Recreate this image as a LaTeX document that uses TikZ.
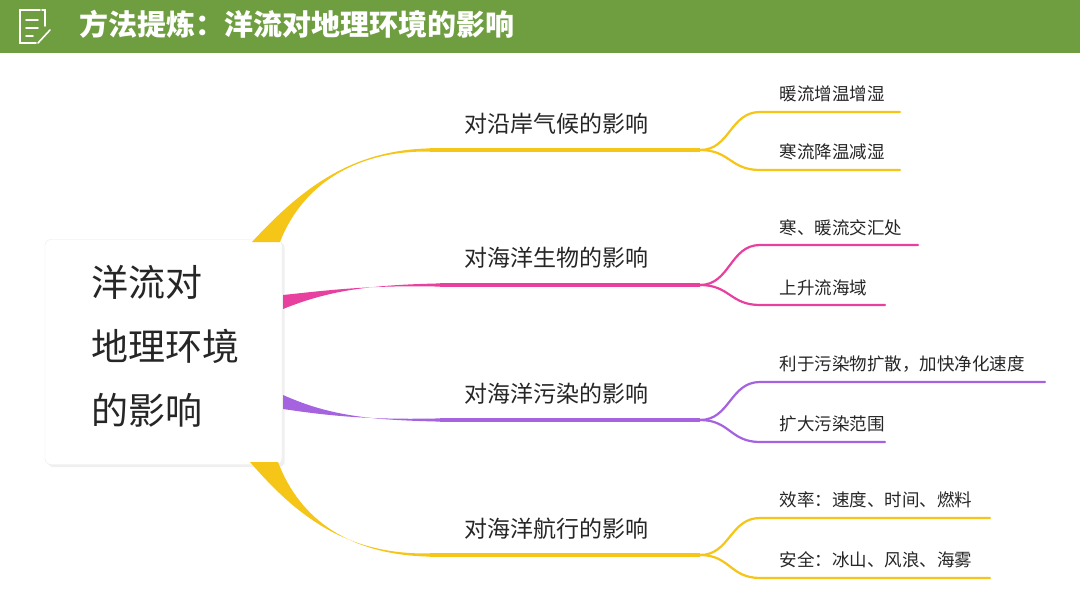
\documentclass[tikz,border=0pt]{standalone}
\usepackage{fontspec}
\setmainfont{Noto Sans CJK SC}
\usetikzlibrary{positioning, shadows, calc}

\definecolor{hdrgreen}{HTML}{6E9E3F}
\definecolor{brYellow}{HTML}{F5C518}
\definecolor{brPink}{HTML}{E8409F}
\definecolor{brPurple}{HTML}{A563E0}

\tikzset{
  topic/.style={font=\fontsize{23}{26}\selectfont, text=black!85},
  leaf/.style={font=\fontsize{17.5}{20}\selectfont, text=black!85, anchor=west},
  twig/.style={line width=2.2pt, line cap=round},
}

% tapering main branch: colour, start, half width, c1, c2, end
\newcommand{\mainbranch}[6]{%
  \fill[#1] ($#2-#3$) .. controls #4 and #5 .. ($#6+(0,-1.6)$)
            -- ($#6+(0,1.6)$) .. controls #5 and #4 .. ($#2+#3$) -- cycle;}

\begin{document}
\begin{tikzpicture}[x=1pt, y=-1pt]
  \useasboundingbox (0,0) rectangle (1080,608);
  \fill[white] (0,0) rectangle (1080,608);

  % Header:
  \fill[hdrgreen] (0,0) rectangle (1080,53);
  \draw[white, line width=1.6pt, line cap=round]
    (40,10) -- (20,10) -- (20,43) -- (36,43)
    (45,26) -- (45,10) -- (42,10)
    (26,20) -- (38,20) (26,28) -- (38,28) (26,36) -- (33,36)
    (38,43) -- (50,30);
  \node[anchor=west, text=white, font=\fontsize{29}{32}\selectfont\bfseries]
    (title) at (76,24) {方法提炼：洋流对地理环境的影响};

  % Root:
  \node[draw=black!8, fill=white, rounded corners=6pt, drop shadow={opacity=0.12},
        minimum width=237pt, minimum height=225pt] (root) at (163.5,352) {};
  \node[anchor=north west, align=left, text=black!85,
        font=\fontsize{37}{64}\selectfont] (roottext) at (88,262)
        {洋流对\\地理环境\\的影响};

  % Main branches:
  \mainbranch{brYellow}{(266,242)}{(14,0)}{(300,190)}{(350,150)}{(430,150)}
  \draw[brYellow, line width=3.2pt] (430,150) -- (700,150) coordinate (b1);
  \mainbranch{brPink}{(283,302)}{(0,-7)}{(330,290)}{(370,285)}{(440,285)}
  \draw[brPink, line width=3.2pt] (440,285) -- (700,285) coordinate (b2);
  \mainbranch{brPurple}{(283,402)}{(0,-7)}{(330,416)}{(370,420)}{(440,420)}
  \draw[brPurple, line width=3.2pt] (440,420) -- (700,420) coordinate (b3);
  \mainbranch{brYellow}{(264,462)}{(14,0)}{(300,520)}{(350,555)}{(430,555)}
  \draw[brYellow, line width=3.2pt] (430,555) -- (700,555) coordinate (b4);

  \node[topic] (t1) at (556,124) {对沿岸气候的影响};
  \node[topic] (t2) at (556,258) {对海洋生物的影响};
  \node[topic] (t3) at (556,394) {对海洋污染的影响};
  \node[topic] (t4) at (556,529) {对海洋航行的影响};

  % Leaves:
  \coordinate (e11) at (900,112);  \coordinate (e12) at (900,170);
  \coordinate (e21) at (918,245);  \coordinate (e22) at (885,305);
  \coordinate (e31) at (1045,382); \coordinate (e32) at (885,442);
  \coordinate (e41) at (990,518);  \coordinate (e42) at (990,578);

  \foreach \b/\c/\d/\col in {b1/e11/-38/brYellow, b1/e12/20/brYellow,
                             b2/e21/-40/brPink, b2/e22/20/brPink,
                             b3/e31/-38/brPurple, b3/e32/22/brPurple,
                             b4/e41/-37/brYellow, b4/e42/23/brYellow}
    \draw[twig, \col] (\b) .. controls ($(\b)+(30,0)$) and ($(\b)+(30,\d)$)
      .. ($(\b)+(60,\d)$) -- (\c);

  \node[leaf] (l11) at (776,94)  {暖流增温增湿};
  \node[leaf] (l12) at (776,152) {寒流降温减湿};
  \node[leaf] (l21) at (776,228) {寒、暖流交汇处};
  \node[leaf] (l22) at (776,288) {上升流海域};
  \node[leaf] (l31) at (776,364) {利于污染物扩散，加快净化速度};
  \node[leaf] (l32) at (776,424) {扩大污染范围};
  \node[leaf] (l41) at (776,500) {效率：速度、时间、燃料};
  \node[leaf] (l42) at (776,560) {安全：冰山、风浪、海雾};
\end{tikzpicture}
\end{document}
